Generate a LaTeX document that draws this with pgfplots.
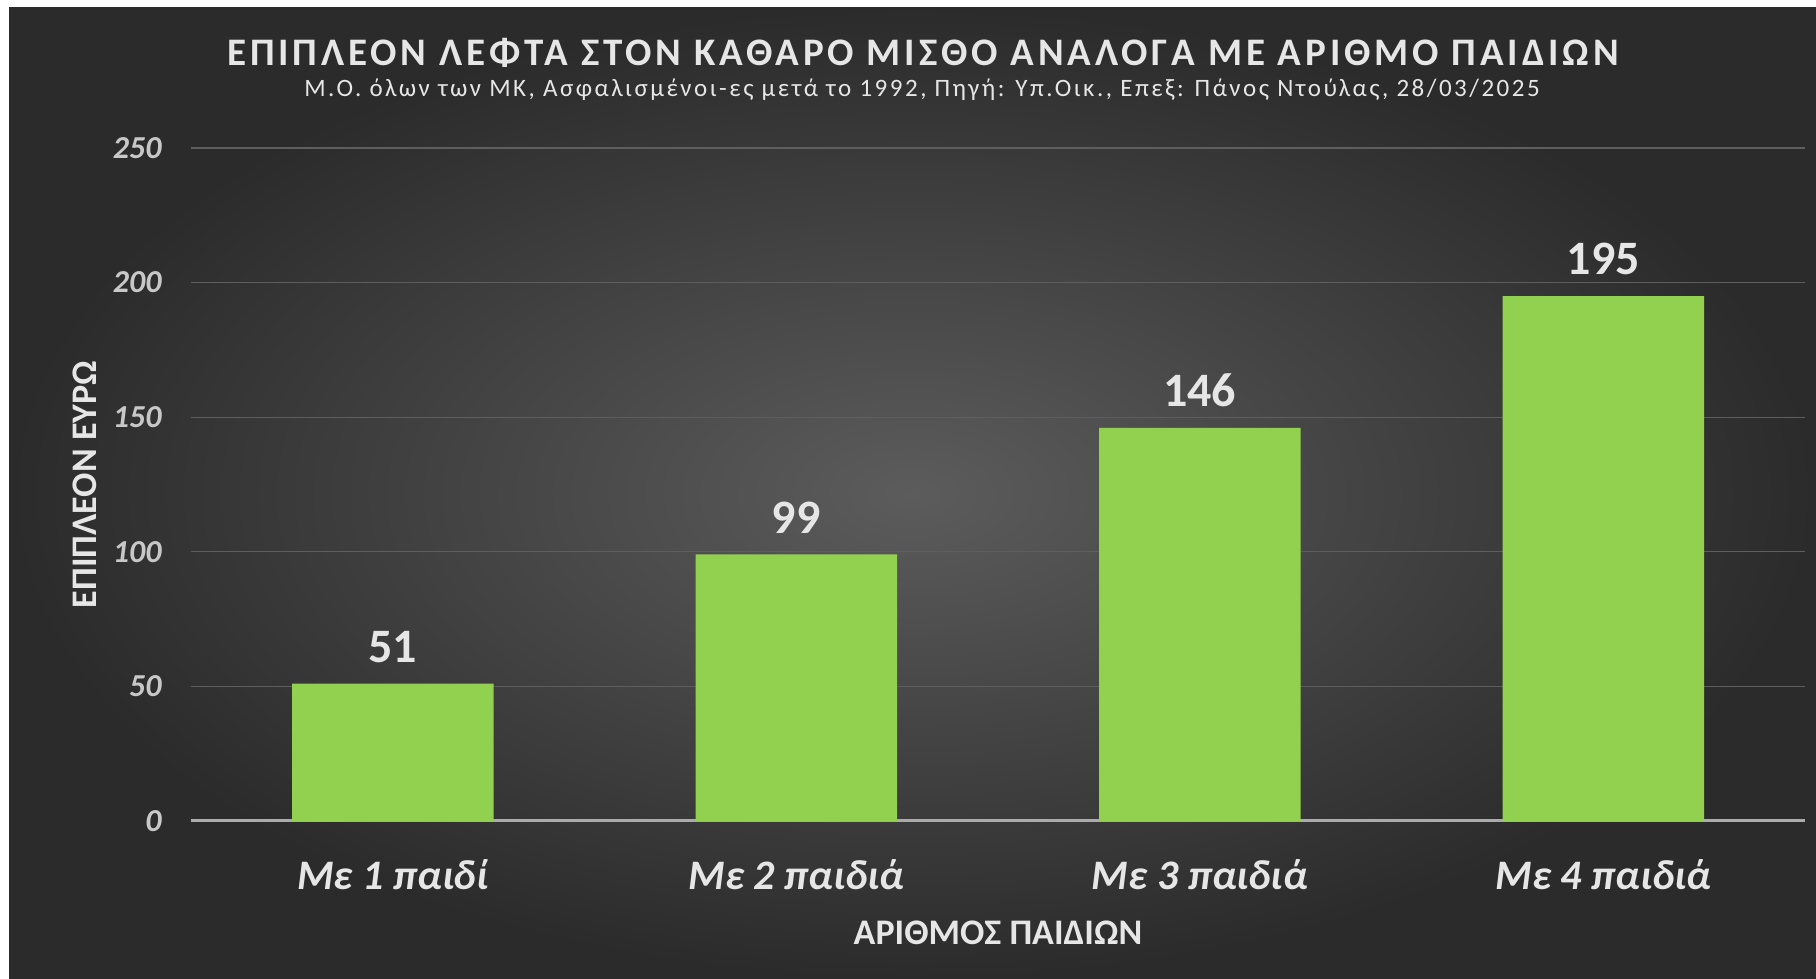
\documentclass[border=0pt]{standalone}
\usepackage{pgfplots}
\pgfplotsset{compat=1.18}
\usepackage{fontspec}
\setmainfont{Carlito}
\newfontfamily\titlefont[LetterSpace=10]{Carlito}
\newfontfamily\subfont[LetterSpace=10]{Carlito}
\definecolor{bargreen}{HTML}{92D050}
\definecolor{bginner}{HTML}{5C5C5C}
\definecolor{bgouter}{HTML}{2B2B2B}
\definecolor{gridc}{HTML}{5E5E5E}
\definecolor{zeroc}{HTML}{ABABAB}
\definecolor{txtc}{HTML}{E6E6E6}
\definecolor{ytxt}{HTML}{C8C8C8}
\begin{document}
\begin{tikzpicture}
\path[use as bounding box, fill=white] (0,0) rectangle (908pt,489.5pt);
\shade[inner color=bginner, outer color=bgouter] (4.5pt,0) rectangle (908pt,485.5pt);
\begin{axis}[
  at={(95.5pt,79pt)}, anchor=south west,
  scale only axis, width=807pt, height=336.5pt,
  xmin=-0.5, xmax=3.5, ymin=0, ymax=250,
  ytick={0,50,100,150,200,250},
  xtick={0,1,2,3},
  xticklabels={Με 1 παιδί, Με 2 παιδιά, Με 3 παιδιά, Με 4 παιδιά},
  major tick length=0pt,
  axis line style={draw=none},
  ymajorgrids, grid style={draw=gridc, line width=0.6pt},
  extra y ticks={0}, extra y tick labels={},
  extra y tick style={grid style={draw=zeroc, line width=1.5pt}},
  /pgf/number format/assume math mode=true,
  yticklabel style={font=\fontsize{16}{16}\selectfont\bfseries\itshape, color=ytxt, anchor=east, inner sep=0pt, xshift=-14.5pt},
  xticklabel style={font=\fontsize{21}{21}\selectfont\bfseries\itshape, color=txtc, anchor=center, yshift=-27pt},
  xlabel={ΑΡΙΘΜΟΣ ΠΑΙΔΙΩΝ},
  ylabel={ΕΠΙΠΛΕΟΝ ΕΥΡΩ},
  xlabel style={at={(axis description cs:0.5,-0.1664)}, anchor=center, font=\fontsize{18}{18}\selectfont\bfseries, color=txtc},
  ylabel style={at={(axis description cs:-0.0657,0.5)}, anchor=center, rotate=0, font=\fontsize{18}{18}\selectfont\bfseries, color=txtc},
  ybar, bar width=100.75pt,
  nodes near coords,
  nodes near coords style={font=\fontsize{24}{24}\selectfont\bfseries, color=txtc, anchor=south, yshift=7pt},
]
\addplot[draw=none, fill=bargreen] coordinates {(0,51) (1,99) (2,146) (3,195)};
\end{axis}
\node[font=\titlefont\fontsize{19.5}{19.5}\selectfont\bfseries, color=txtc] at (461.5pt,463pt) {ΕΠΙΠΛΕΟΝ ΛΕΦΤΑ ΣΤΟΝ ΚΑΘΑΡΟ ΜΙΣΘΟ ΑΝΑΛΟΓΑ ΜΕ ΑΡΙΘΜΟ ΠΑΙΔΙΩΝ};
\node[font=\subfont\fontsize{12.5}{12.5}\selectfont, color=txtc] at (461pt,444.5pt) {Μ.Ο. όλων των ΜΚ, Ασφαλισμένοι-ες μετά το 1992, Πηγή: Υπ.Οικ., Επεξ: Πάνος Ντούλας, 28/03/2025};
\end{tikzpicture}
\end{document}
